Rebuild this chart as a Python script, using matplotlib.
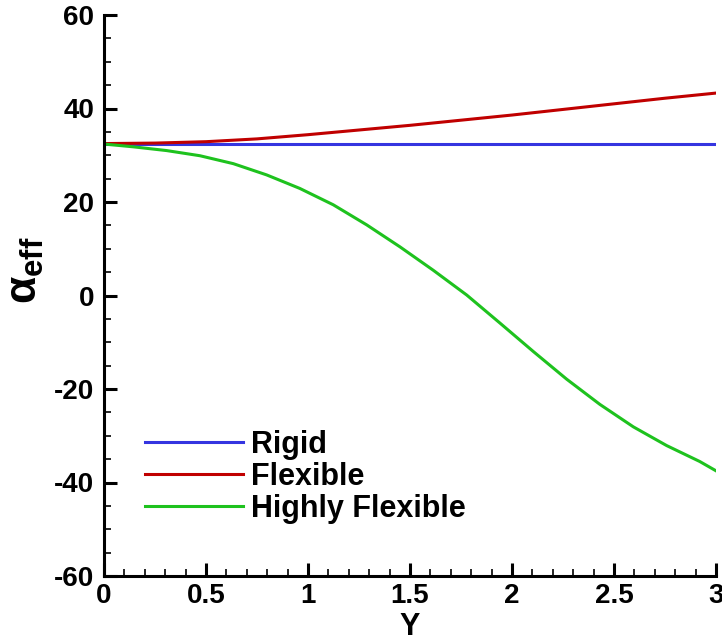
import matplotlib
matplotlib.use("Agg")
import matplotlib.pyplot as plt
from matplotlib.ticker import MultipleLocator

# Data
x_rigid = [0.0, 3.0]
y_rigid = [32.5, 32.5]

x_flex = [0.0, 0.25, 0.5, 0.75, 1.0, 1.25, 1.5, 1.75, 2.0, 2.25, 2.5, 2.75, 3.0]
y_flex = [32.5, 32.6, 32.9, 33.5, 34.4, 35.4, 36.4, 37.5, 38.6, 39.8, 41.0, 42.2, 43.3]

x_hflex = [0.0, 0.144, 0.307, 0.47, 0.634, 0.797, 0.96, 1.124, 1.288, 1.451,
           1.614, 1.778, 1.941, 2.105, 2.268, 2.431, 2.595, 2.758, 2.92, 3.0]
y_hflex = [32.4, 31.8, 31.0, 29.9, 28.2, 25.8, 22.9, 19.4, 15.1, 10.4,
           5.4, 0.1, -5.9, -12.0, -17.9, -23.3, -28.1, -32.1, -35.5, -37.5]

labels = ["Rigid", "Flexible", "Highly Flexible"]
colors = ["#3535e0", "#c00000", "#1ec21e"]

plt.rcParams['font.family'] = ['Liberation Sans', 'DejaVu Sans']
plt.rcParams['font.weight'] = 'bold'
plt.rcParams['axes.unicode_minus'] = False
plt.rcParams['mathtext.fontset'] = 'custom'
plt.rcParams['mathtext.rm'] = 'Liberation Sans:bold'
plt.rcParams['mathtext.bf'] = 'Liberation Sans:bold'
plt.rcParams['mathtext.it'] = 'Liberation Sans:bold'

fig = plt.figure(figsize=(7.22, 6.44), dpi=100)
ax = fig.add_axes([104/722, 1 - 576/644, 612/722, 561/644])

ax.plot(x_rigid, y_rigid, color=colors[0], lw=2.2, label=labels[0])
ax.plot(x_flex, y_flex, color=colors[1], lw=2.2, label=labels[1])
ax.plot(x_hflex, y_hflex, color=colors[2], lw=2.2, label=labels[2])

ax.set_xlim(0, 3)
ax.set_ylim(-60, 60)
ax.xaxis.set_major_locator(MultipleLocator(0.5))
ax.xaxis.set_minor_locator(MultipleLocator(0.1))
ax.yaxis.set_major_locator(MultipleLocator(20))
ax.yaxis.set_minor_locator(MultipleLocator(5))
ax.set_xticks([0, 0.5, 1, 1.5, 2, 2.5, 3])
ax.set_xticklabels(["0", "0.5", "1", "1.5", "2", "2.5", "3"])

for s in ["top", "right"]:
    ax.spines[s].set_visible(False)
for s in ["left", "bottom"]:
    ax.spines[s].set_linewidth(2.2)

ax.tick_params(which='major', direction='in', length=9.5, width=2.2,
               labelsize=20, top=False, right=False)
ax.tick_params(axis='y', which='major', pad=7)
ax.tick_params(axis='x', which='major', pad=5)
ax.tick_params(which='minor', direction='in', length=5, width=1.2,
               top=False, right=False)
for lab in ax.get_xticklabels() + ax.get_yticklabels():
    lab.set_fontweight('bold')

ax.set_xlabel("Y", fontsize=22, fontweight='bold', labelpad=2)
ax.set_ylabel(r"$\alpha_{\mathrm{eff}}$", fontsize=32)
ax.yaxis.set_label_coords(-0.095, 0.545)

leg = ax.legend(loc='upper left', bbox_to_anchor=(0.067, 0.26), frameon=False,
                fontsize=22, handlelength=3.2, handletextpad=0.28,
                labelspacing=0.06, borderpad=0, borderaxespad=0)
for t in leg.get_texts():
    t.set_fontweight('bold')

fig.savefig("out.png", dpi=100)
